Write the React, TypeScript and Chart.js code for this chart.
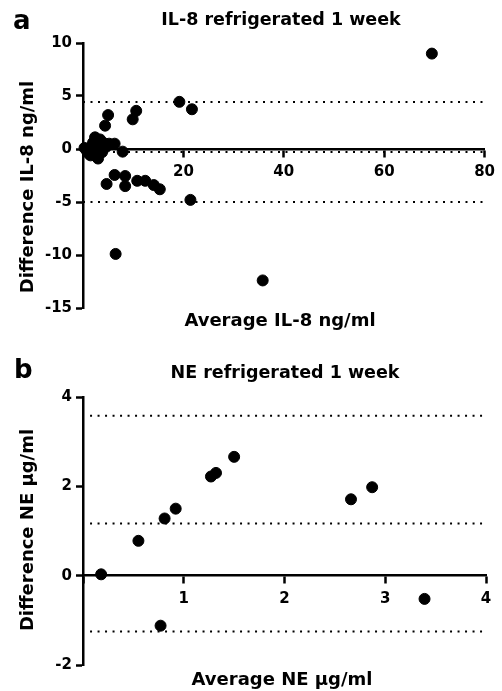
import React, { useEffect, useRef } from 'react';
import { Chart, registerables } from 'chart.js';
Chart.register(...registerables);

// Panel a: IL-8 (Bland-Altman)
const il8Average = [
  69.5, 19.2, 21.7, 21.4, 35.8, 6.5, 5.0, 4.4, 9.9, 10.6, 7.9, 4.7, 6.3, 8.4, 8.4, 10.8, 12.4, 14.1, 15.3,
  0.3, 0.8, 1.3, 1.6, 2.0, 2.4, 2.6, 3.0, 3.0, 3.4, 3.8, 4.0, 4.6, 5.2, 6.3, 2.2, 1.5,
];
const il8Difference = [
  9.0, 4.45, 3.75, -4.8, -12.4, -9.9, 3.2, 2.2, 2.8, 3.6, -0.25, -3.3, -2.45, -2.55, -3.5, -3.0, -3.0, -3.4, -3.8,
  0.1, -0.2, -0.5, 0.2, 0.6, 1.1, -0.7, -0.9, 0.3, 0.9, -0.3, 0.6, 0.2, 0.5, 0.5, -0.2, -0.6,
];
const il8Limits = [4.43, -0.28, -4.99];
const il8XRange = [0, 80];
const il8YRange = [-15, 10];

// Panel b: NE (Bland-Altman)
const neAverage = [0.18, 0.55, 0.81, 0.92, 1.27, 1.32, 1.5, 2.66, 2.87, 3.39, 0.77];
const neDifference = [0.03, 0.78, 1.28, 1.5, 2.22, 2.3, 2.66, 1.71, 1.98, -0.52, -1.12];
const neLimits = [3.58, 1.17, -1.25];
const neXRange = [0, 4];
const neYRange = [-2, 4];

const FONT = '"DejaVu Sans", "Liberation Sans", Arial, sans-serif';

const textPlugin = {
  id: 'panelText',
  afterDraw(chart: any, _args: any, o: any) {
    const ctx = chart.ctx;
    ctx.save();
    ctx.fillStyle = '#000';
    ctx.textBaseline = 'alphabetic';
    ctx.textAlign = 'left';
    ctx.font = `bold 26px ${FONT}`;
    ctx.fillText(o.letter, o.letterX, o.letterY);
    ctx.textAlign = 'center';
    ctx.font = `bold 17.5px ${FONT}`;
    ctx.fillText(o.title, o.titleX, o.titleY);
    ctx.font = `bold 18px ${FONT}`;
    ctx.fillText(o.xTitle, o.xTitleX, o.xTitleY);
    ctx.translate(o.yTitleX, o.yTitleY);
    ctx.rotate(-Math.PI / 2);
    ctx.fillText(o.yTitle, 0, 0);
    ctx.restore();
  },
};

function buildConfig(p: any) {
  const points = p.xs.map((x: number, i: number) => ({ x, y: p.ys[i] }));
  const limitSets = p.limits.map((v: number) => ({
    data: [
      { x: p.lineStart, y: v },
      { x: p.xRange[1], y: v },
    ],
    showLine: true,
    borderColor: '#000',
    borderWidth: 2,
    borderDash: [2, 5.5],
    pointRadius: 0,
    fill: false,
  }));
  const tickFont = { family: FONT, size: 15, weight: 'bold' as const };
  return {
    type: 'scatter' as const,
    data: {
      datasets: [
        {
          data: points,
          backgroundColor: '#000',
          borderColor: '#000',
          borderWidth: 1,
          pointRadius: 5.5,
          clip: false,
        },
        ...limitSets,
      ],
    },
    options: {
      animation: false,
      responsive: false,
      events: [],
      layout: { padding: p.padding },
      plugins: {
        legend: { display: false },
        tooltip: { enabled: false },
        panelText: p.text,
      },
      scales: {
        x: {
          type: 'linear',
          min: p.xRange[0],
          max: p.xRange[1],
          position: { y: 0 },
          ticks: {
            stepSize: p.xStep,
            color: '#000',
            font: tickFont,
            padding: 7,
            maxRotation: 0,
            callback: (v: number) => (v === 0 ? '' : String(v)),
          },
          grid: { drawOnChartArea: false, color: '#000', tickLength: 7, tickWidth: 2.5 },
          border: { color: '#000', width: 2.5 },
        },
        y: {
          type: 'linear',
          min: p.yRange[0],
          max: p.yRange[1],
          position: 'left',
          afterFit: (s: any) => {
            s.width = 83;
          },
          ticks: { stepSize: p.yStep, color: '#000', font: tickFont, padding: 4 },
          grid: { drawOnChartArea: false, color: '#000', tickLength: 7, tickWidth: 2.5 },
          border: { color: '#000', width: 2.5 },
        },
      },
    },
    plugins: [textPlugin],
  };
}

export default function App() {
  const refA = useRef<HTMLCanvasElement>(null);
  const refB = useRef<HTMLCanvasElement>(null);

  useEffect(() => {
    const a = new Chart(
      refA.current as HTMLCanvasElement,
      buildConfig({
        xs: il8Average,
        ys: il8Difference,
        limits: il8Limits,
        lineStart: il8XRange[0],
        xRange: il8XRange,
        yRange: il8YRange,
        xStep: 20,
        yStep: 5,
        padding: { left: 0, right: 16, top: 43, bottom: 22 },
        text: {
          letter: 'a', letterX: 13, letterY: 29,
          title: 'IL-8 refrigerated 1 week', titleX: 281, titleY: 25,
          xTitle: 'Average IL-8 ng/ml', xTitleX: 280, xTitleY: 326,
          yTitle: 'Difference IL-8 ng/ml', yTitleX: 33, yTitleY: 187,
        },
      }) as any
    );
    const b = new Chart(
      refB.current as HTMLCanvasElement,
      buildConfig({
        xs: neAverage,
        ys: neDifference,
        limits: neLimits,
        lineStart: 0.07,
        xRange: neXRange,
        yRange: neYRange,
        xStep: 1,
        yStep: 2,
        padding: { left: 0, right: 16, top: 67, bottom: 26 },
        text: {
          letter: 'b', letterX: 14, letterY: 48,
          title: 'NE refrigerated 1 week', titleX: 285, titleY: 48,
          xTitle: 'Average NE µg/ml', xTitleX: 282, xTitleY: 355,
          yTitle: 'Difference NE µg/ml', yTitleX: 33, yTitleY: 200,
        },
      }) as any
    );
    return () => {
      a.destroy();
      b.destroy();
    };
  }, []);

  return (
    <div style={{ position: 'absolute', left: 0, top: 0, width: 502, height: 691, background: '#fff' }}>
      <canvas ref={refA} width={502} height={330} style={{ display: 'block', width: 502, height: 330 }} />
      <canvas ref={refB} width={502} height={361} style={{ display: 'block', width: 502, height: 361 }} />
    </div>
  );
}
